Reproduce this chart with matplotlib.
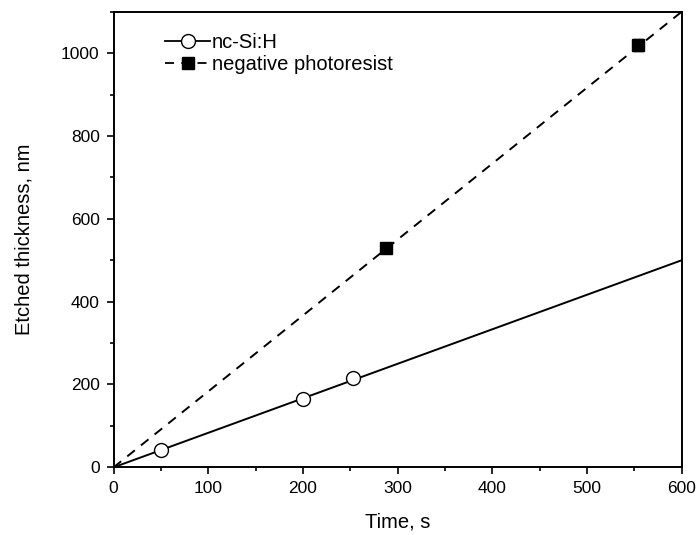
import numpy as np
import matplotlib
matplotlib.use("Agg")
import matplotlib.pyplot as plt
from matplotlib.ticker import MultipleLocator

plt.rcParams['font.family'] = ['Liberation Sans', 'DejaVu Sans']

# measured points
t_si = [50, 200, 253]
d_si = [41, 164, 216]
t_pr = [288, 554]
d_pr = [529, 1020]
err_pr = [0, 15]

# linear fits
fit_t = [0, 600]
fit_si = [0, 500]
fit_pr = [0, 1100]

fig = plt.figure(figsize=(6.97, 5.35), dpi=100)
ax = fig.add_axes([0.163, 0.1265, 0.815, 0.8515])

ax.plot(fit_t, fit_si, color='black', lw=1.4, zorder=1)
ax.plot(fit_t, fit_pr, color='black', lw=1.4, ls=(0, (5, 4)), zorder=1)
ax.plot(t_si, d_si, 'o', ms=10, mfc='white', mec='black', mew=1.0, zorder=3)
ax.errorbar(t_pr, d_pr, yerr=err_pr, fmt='s', ms=9, color='black',
            ecolor='black', elinewidth=1, capsize=3.5, zorder=3)

# legend handles
h1, = ax.plot([], [], '-o', color='black', lw=1.3, ms=10, mfc='white', mec='black')
h2, = ax.plot([], [], ls=(0, (5, 4)), marker='s', color='black', lw=1.3, ms=8)
ax.legend([h1, h2], ['nc-Si:H', 'negative photoresist'], loc='upper left',
          bbox_to_anchor=(0.077, 0.972), frameon=False, fontsize=14.5,
          handlelength=2.2, handletextpad=0.1, borderaxespad=0, labelspacing=0.15)

ax.set_xlim(0, 600)
ax.set_ylim(0, 1100)
ax.xaxis.set_major_locator(MultipleLocator(100))
ax.xaxis.set_minor_locator(MultipleLocator(50))
ax.yaxis.set_major_locator(MultipleLocator(200))
ax.yaxis.set_minor_locator(MultipleLocator(100))
ax.tick_params(which='major', direction='out', length=5, width=1.2, labelsize=12.5, pad=5)
ax.tick_params(which='minor', direction='out', length=3, width=1.2)
for s in ax.spines.values():
    s.set_linewidth(1.4)

ax.set_xlabel("Time, s", fontsize=14.5, labelpad=12)
ax.set_ylabel("Etched thickness, nm", fontsize=14.5, labelpad=20)

fig.savefig("out.png", dpi=100)
